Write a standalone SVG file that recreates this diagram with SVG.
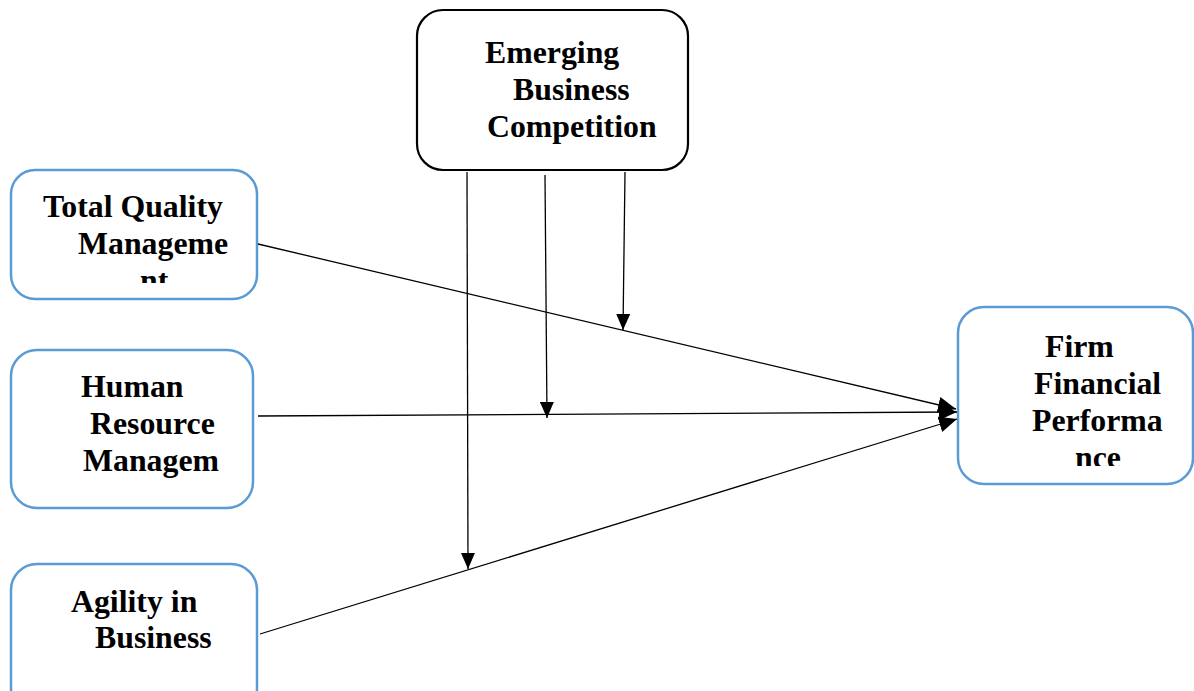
<svg xmlns="http://www.w3.org/2000/svg" width="1194" height="691" viewBox="0 0 1194 691">
<style>
.blue{fill:#fff;stroke:#5B9BD5;stroke-width:2.5}
.blk{fill:#fff;stroke:#000;stroke-width:2.2}
text{font-family:"Liberation Serif","Times New Roman",serif;font-weight:bold;font-size:31.8px;fill:#000}
.c{stroke:#000;stroke-width:1.3;fill:none}
</style>
<defs>
<marker id="ah" viewBox="0 0 16 14" refX="16" refY="7" markerWidth="16" markerHeight="14" markerUnits="userSpaceOnUse" orient="auto">
<path d="M0,0 L16,7 L0,14 Z" fill="#000"/>
</marker>
<marker id="ah2" viewBox="0 0 18 16" refX="18" refY="8" markerWidth="18" markerHeight="16" markerUnits="userSpaceOnUse" orient="auto">
<path d="M0,0 L18,8 L0,16 Z" fill="#000"/>
</marker>
<clipPath id="cq"><rect x="0" y="0" width="1194" height="283"/></clipPath>
<clipPath id="cf"><rect x="0" y="0" width="1194" height="466"/></clipPath>
</defs>
<g id="ebc">
<rect class="blk" x="417" y="10" width="271" height="160" rx="26"/>
<text x="485" y="63">Emerging</text>
<text x="513" y="100">Business</text>
<text x="487" y="137">Competition</text>
</g>
<g id="tqm">
<rect class="blue" x="11" y="170" width="246" height="129" rx="24"/>
<text x="43" y="217">Total Quality</text>
<text x="78" y="254">Manageme</text>
<text x="140" y="291" clip-path="url(#cq)">nt</text>
</g>
<g id="hrm">
<rect class="blue" x="11" y="350" width="242" height="158" rx="26"/>
<text x="81" y="397">Human</text>
<text x="90" y="434">Resource</text>
<text x="83" y="471">Managem</text>
</g>
<g id="ab">
<rect class="blue" x="11" y="564" width="246" height="150" rx="26"/>
<text x="71" y="612">Agility in</text>
<text x="95" y="648">Business</text>
</g>
<g id="ffp">
<rect class="blue" x="958" y="307" width="235" height="177" rx="26"/>
<text x="1045" y="357">Firm</text>
<text x="1034" y="394">Financial</text>
<text x="1032" y="431">Performa</text>
<text x="1075" y="468" clip-path="url(#cf)">nce</text>
</g>
<g id="connectors">
<line class="c" x1="258" y1="244" x2="956" y2="409" marker-end="url(#ah2)"/>
<line class="c" x1="258" y1="416" x2="957" y2="412" marker-end="url(#ah2)"/>
<line class="c" x1="260" y1="634" x2="957" y2="419" marker-end="url(#ah2)"/>
<line class="c" x1="467" y1="172" x2="468" y2="569" marker-end="url(#ah)"/>
<line class="c" x1="545" y1="175" x2="547" y2="418" marker-end="url(#ah)"/>
<line class="c" x1="625" y1="172" x2="623" y2="330" marker-end="url(#ah)"/>
</g>
</svg>
